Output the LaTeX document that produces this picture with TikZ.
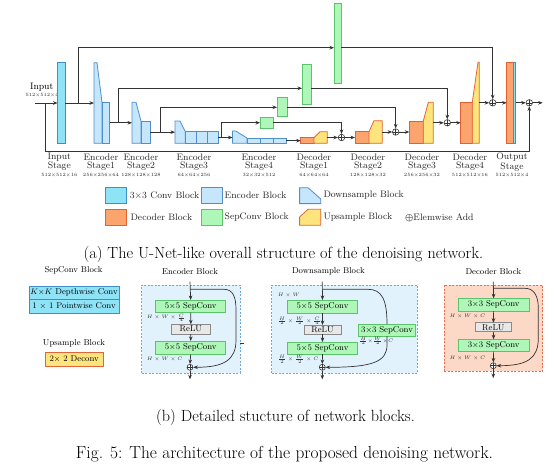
\documentclass[tikz,border=0pt]{standalone}
\usepackage{amsmath}
\usepackage{bm}
\usetikzlibrary{arrows.meta}
\definecolor{convF}{HTML}{8FE3F7}
\definecolor{convD}{HTML}{3D8FC6}
\definecolor{encF}{HTML}{C6E7FB}
\definecolor{encD}{HTML}{4F8FCB}
\definecolor{decF}{HTML}{FBA46E}
\definecolor{decD}{HTML}{E2612F}
\definecolor{sepF}{HTML}{AEF7B8}
\definecolor{sepD}{HTML}{5BC46B}
\definecolor{upF}{HTML}{FDE47C}
\definecolor{upD}{HTML}{E0653A}
\definecolor{reluF}{HTML}{E8E8E8}
\definecolor{reluD}{HTML}{8A8A8A}
\definecolor{frameE}{HTML}{E2F2FC}
\definecolor{frameED}{HTML}{6FA9D8}
\definecolor{frameR}{HTML}{FCD8C6}
\definecolor{frameRD}{HTML}{EA6C52}
\definecolor{ln}{HTML}{333333}
\newcommand\bx[7]{\pgfmathsetmacro\bxw{#5-#3}\pgfmathsetmacro\bxh{#6-#4}%
 \node[#1, minimum width=\bxw pt, minimum height=\bxh pt] (#2) at (#3,#4) {#7};}
\begin{document}
\begin{tikzpicture}[x=1pt,y=-1pt,
 blk/.style={draw, line width=0.8pt, inner sep=0pt, outer sep=0pt, anchor=north west},
 conv/.style={blk, fill=convF, draw=convD},
 enc/.style={blk, fill=encF, draw=encD},
 dec/.style={blk, fill=decF, draw=decD},
 sep/.style={blk, fill=sepF, draw=sepD},
 upb/.style={blk, fill=upF, draw=upD},
 relu/.style={blk, fill=reluF, draw=reluD},
 encP/.style={draw=encD, fill=encF, line width=0.8pt},
 upP/.style={draw=upD, fill=upF, line width=0.8pt},
 frE/.style={blk, fill=frameE, draw=frameED, line width=0.6pt, dash pattern=on 2pt off 1.5pt},
 frR/.style={blk, fill=frameR, draw=frameRD, line width=0.6pt, dash pattern=on 2pt off 1.5pt},
 con/.style={draw=ln, line width=0.7pt},
 arr/.style={con, -{Stealth[length=4.5pt,width=3.6pt]}},
 addnode/.style={circle, draw=ln, fill=white, line width=0.6pt, minimum size=6.5pt, inner sep=0pt,
   path picture={\draw[ln, line width=0.6pt] (path picture bounding box.north) -- (path picture bounding box.south)
   (path picture bounding box.west) -- (path picture bounding box.east);}},
 stl/.style={font=\fontsize{9.4}{8.4}\selectfont, align=center, inner sep=0pt, text=black!85},
 dimlab/.style={font=\fontsize{4.8}{6}\selectfont, inner sep=0pt, text=black!85},
 lgt/.style={font=\fontsize{9.4}{11}\selectfont, inner sep=0pt, anchor=west, text=black!85},
 captxt/.style={font=\fontsize{16.2}{19}\selectfont, inner sep=0pt},
 figtxt/.style={font=\fontsize{17.4}{20}\selectfont, inner sep=0pt},
 btx/.style={font=\fontsize{8.5}{10}\selectfont},
 smalllab/.style={font=\fontsize{5}{6}\selectfont, inner sep=0pt, anchor=west, text=black!80},
]
\useasboundingbox[fill=white] (0,0) rectangle (554,469);

% ---------------- (a) overall structure ----------------
\node[font=\fontsize{9.4}{10}\selectfont, inner sep=0pt] (intxt) at (41.7,87.3) {Input};
\node[dimlab] (indim) at (42,95.3) {512×512×4};

\bx{conv}{inst}{57.5}{62.7}{65}{143.3}{}

\draw[encP] (94,143.3) -- (94,62.7) -- (97,62.7) -- (102,102.3) -- (102,143.3) -- cycle;
\coordinate (d1w) at (94,103);
\bx{enc}{enc1}{102}{102.3}{109.7}{143.3}{}

\draw[encP] (132,143.3) -- (132,102.3) -- (136,102.3) -- (141,121) -- (141,143.3) -- cycle;
\coordinate (d2w) at (132,122.8);
\bx{enc}{enc2}{141}{121}{150}{143.3}{}

\draw[encP] (175,143.3) -- (175,121) -- (180,121) -- (185.3,131.7) -- (185.3,143.3) -- cycle;
\coordinate (d3w) at (175,132.15);
\bx{enc}{enc3a}{185.3}{131.7}{196}{143.3}{}
\bx{enc}{enc3b}{196}{131.7}{207}{143.3}{}
\bx{enc}{enc3c}{207}{131.7}{218}{143.3}{}

\draw[encP] (232.5,143.3) -- (232.5,131) -- (235.7,131) -- (247,138) -- (247,143.3) -- cycle;
\coordinate (d4w) at (232.5,137.5);
\bx{enc}{enc4a}{247}{138}{260}{143.3}{}
\bx{enc}{enc4b}{260}{138}{273}{143.3}{}
\bx{enc}{enc4c}{273}{138}{286}{143.3}{}

\bx{dec}{dec1}{300.7}{137.7}{314}{143.3}{}
\draw[upP] (314,143.3) -- (314,137.7) -- (320,131.7) -- (327.3,131.7) -- (327.3,143.3) -- cycle;
\coordinate (u1e) at (327.3,137.5);

\bx{dec}{dec2}{355}{131.7}{369}{143.3}{}
\draw[upP] (369,143.3) -- (369,131.7) -- (374,120.7) -- (382.3,120.7) -- (382.3,143.3) -- cycle;
\coordinate (u2e) at (382.3,132);

\bx{dec}{dec3}{409.3}{121}{423.3}{143.3}{}
\draw[upP] (423.3,143.3) -- (423.3,121) -- (428.3,102.3) -- (433.3,102.3) -- (433.3,143.3) -- cycle;
\coordinate (u3e) at (433.3,122.8);

\bx{dec}{dec4}{460.7}{102.3}{472.3}{143.3}{}
\draw[upP] (472.3,143.3) -- (472.3,102.3) -- (478,62.3) -- (479.3,62.3) -- (479.3,143.3) -- cycle;
\coordinate (u4e) at (479.3,102.8);

\bx{dec}{outs}{506.7}{62.3}{513.3}{143.3}{}
\bx{conv}{outc}{513.3}{62.3}{515.7}{143.3}{}

\bx{sep}{G1}{334}{3}{341}{83}{}
\bx{sep}{G2}{302}{64.3}{311}{104.3}{}
\bx{sep}{G3}{277}{97.7}{287.3}{116.7}{}
\bx{sep}{G4}{260}{117}{273}{128.3}{}

\node[addnode] (a1) at (341.5,137.5) {};
\node[addnode] (a2) at (395.7,132) {};
\node[addnode] (a3) at (447.3,122.8) {};
\node[addnode] (a4) at (492.7,102.8) {};
\node[addnode] (a5) at (529.3,102.8) {};

% main path
\coordinate (inp) at (35.3,103);
\coordinate (outp) at (542.7,102.8);
\draw[arr] (inp) -- (inst.west);
\draw[arr] (inst.east) -- (d1w);
\draw[arr] (enc1.east) -- (d2w);
\draw[arr] (enc2.east) -- (d3w);
\draw[arr] (enc3c.east) -- (d4w);
\draw[arr] (enc4c.east) -- (dec1.west |- enc4c.east);
\draw[arr] (u1e) -- (a1.west);
\draw[arr] (a1.east) -- (dec2.west |- a1.east);
\draw[arr] (u2e) -- (a2.west);
\draw[arr] (a2.east) -- (dec3.west |- a2.east);
\draw[arr] (u3e) -- (a3.west);
\draw[arr] (a3.east) -- (dec4.west |- a3.east);
\draw[arr] (u4e) -- (a4.west);
\draw[arr] (a4.east) -- (outs.west |- a4.east);
\draw[arr] (outc.east |- a5.west) -- (a5.west);
\draw[arr] (a5.east) -- (outp);

% skip connections
\coordinate (s1) at (78,103);      \coordinate (g1in) at (334,47.7);  \coordinate (g1out) at (341,47.7);
\coordinate (s2) at (118.3,122.8); \coordinate (g2in) at (302,88.3);  \coordinate (g2out) at (311,88.3);
\coordinate (s3) at (160.7,132.15);\coordinate (g3in) at (277,107.3); \coordinate (g3out) at (287.3,107.3);
\coordinate (s4) at (221.7,137.5); \coordinate (g4in) at (260,122.7); \coordinate (g4out) at (273,122.7);
\draw[arr] (s1) |- (g1in);  \draw[arr] (g1out) -| (a4.north);
\draw[arr] (s2) |- (g2in);  \draw[arr] (g2out) -| (a3.north);
\draw[arr] (s3) |- (g3in);  \draw[arr] (g3out) -| (a2.north);
\draw[arr] (s4) |- (g4in);  \draw[arr] (g4out) -| (a1.north);
\coordinate (s5) at (45,103); \coordinate (s5b) at (45,151);
\draw[arr] (s5) -- (s5b) -| (a5.south);

% stage labels
\node[stl] (l1) at (59.3,162) {Input\\Stage};     \node[dimlab] (m1) at (59.3,175.3) {512×512×16};
\node[stl] (l2) at (101,162) {Encoder\\Stage1};   \node[dimlab] (m2) at (101,175.3) {256×256×64};
\node[stl] (l3) at (141,162) {Encoder\\Stage2};   \node[dimlab] (m3) at (141,175.3) {128×128×128};
\node[stl] (l4) at (194,162) {Encoder\\Stage3};   \node[dimlab] (m4) at (194,175.3) {64×64×256};
\node[stl] (l5) at (259,162) {Encoder\\Stage4};   \node[dimlab] (m5) at (259,175.3) {32×32×512};
\node[stl] (l6) at (314,162) {Decoder\\Stage1};   \node[dimlab] (m6) at (314,175.3) {64×64×64};
\node[stl] (l7) at (368,162) {Decoder\\Stage2};   \node[dimlab] (m7) at (368,175.3) {128×128×32};
\node[stl] (l8) at (422,162) {Decoder\\Stage3};   \node[dimlab] (m8) at (422,175.3) {256×256×32};
\node[stl] (l9) at (470,162) {Decoder\\Stage4};   \node[dimlab] (m9) at (470,175.3) {512×512×16};
\node[stl] (l10) at (512,162) {Output\\Stage};    \node[dimlab] (m10) at (512,175.3) {512×512×4};

% legend
\bx{conv}{L1}{105.3}{187.7}{126.2}{203.6}{}
\node[lgt] (L1t) at (129.7,195.6) {3×3 Conv Block};
\bx{enc}{L2}{201.4}{187.7}{222.6}{203.6}{}
\node[lgt] (L2t) at (224.5,195.6) {Encoder Block};
\draw[encP] (299.6,203.6) -- (299.6,187.7) -- (308,187.7) -- (320.8,199) -- (320.8,203.6) -- cycle;
\node[lgt] (L3t) at (323.3,195.6) {Downsample Block};
\bx{dec}{L4}{105.3}{209.3}{126.2}{225.2}{}
\node[lgt] (L4t) at (130.4,217.2) {Decoder Block};
\bx{sep}{L5}{201.4}{209.3}{222.6}{225.2}{}
\node[lgt] (L5t) at (224.5,217.2) {SepConv Block};
\draw[upP] (299.6,225.2) -- (299.6,217) -- (308,209.3) -- (320.8,209.3) -- (320.8,225.2) -- cycle;
\node[lgt] (L6t) at (323.3,217.2) {Upsample Block};
\node[lgt] (L7t) at (405,218) {$\bm{\oplus}$Elemwise Add};

\node[captxt] (capa) at (283.4,254) {(a) The U-Net-like overall structure of the denoising network.};

% ---------------- (b) detailed blocks ----------------
\node[btx, inner sep=0pt] (sct) at (73.5,270.5) {SepConv Block};
\bx{conv,btx}{sc1}{29}{286}{119}{299.3}{$K{\times}K$ Depthwise Conv}
\bx{conv,btx}{sc2}{29}{299.3}{119}{313.3}{1 $\times$ 1 Pointwise Conv}
\node[btx, inner sep=0pt] (upt) at (74,343) {Upsample Block};
\bx{upb,btx}{upd}{45}{352.7}{103.3}{366}{2$\times$ 2 Deconv}

% Encoder block
\node[btx, inner sep=0pt] (et) at (190,271.7) {Encoder Block};
\bx{frE}{ef}{141.7}{285}{240}{373}{}
\bx{sep,btx}{eg1}{155.7}{300}{225.7}{312.7}{5$\times$5 SepConv}
\bx{relu,btx}{er}{171.7}{324.3}{210}{334}{ReLU}
\bx{sep,btx}{eg2}{155.7}{341}{225.7}{354.3}{5$\times$5 SepConv}
\node[addnode, minimum size=6pt] (ea) at (190,367.3) {};
\node[smalllab] (el1) at (146.7,317.6) {$H\times W\times \frac{C}{4}$};
\node[smalllab] (el2) at (146.7,359.3) {$H\times W\times C$};
\coordinate (ein) at (190,281.7); \coordinate (eout) at (190,379.3); \coordinate (esk) at (190,289.3);
\draw[arr] (ein) -- (eg1.north);
\draw[arr] (eg1.south) -- (er.north);
\draw[arr] (er.south) -- (eg2.north);
\draw[arr] (eg2.south) -- (ea.north);
\draw[arr] (ea.south) -- (eout);
\draw[arr] (esk) -- (224,289.3) .. controls (233,289.3) and (236,297) .. (236,310) -- (236,340) .. controls (236,360) and (224,367.3) .. (ea.east);
\coordinate (stA) at (240,343.3); \coordinate (stB) at (243.5,343.3);
\draw[con] (stA) -- (stB);

% Downsample block
\node[btx, inner sep=0pt] (dt) at (328.3,271.7) {Downsample Block};
\bx{frE}{df}{271.7}{285}{417.3}{373.3}{}
\bx{sep,btx}{dg1}{287.3}{300}{357.7}{313.3}{5$\times$5 SepConv}
\bx{relu,btx}{dr}{304}{325}{341}{334}{ReLU}
\bx{sep,btx}{dg2}{287.3}{342}{357.7}{354}{5$\times$5 SepConv}
\bx{sep,btx}{dg3}{358.3}{324}{415.7}{336}{3$\times$3 SepConv}
\node[addnode, minimum size=6pt] (da) at (322.3,367.3) {};
\node[smalllab] (dl0) at (277.7,295) {$H\times W$};
\node[smalllab] (dl1) at (277.7,320.7) {$\frac{H}{2}\times\frac{W}{2}\times\frac{C}{4}$};
\node[smalllab] (dl2) at (277.7,359.3) {$\frac{H}{2}\times\frac{W}{2}\times C$};
\node[smalllab] (dl3) at (359,340.9) {$\frac{H}{2}{\times}\frac{W}{2}{\times}C$};
\coordinate (din) at (322.3,281.7); \coordinate (dout) at (322.3,379.3); \coordinate (dsk) at (322.3,289.3);
\draw[arr] (din) -- (dg1.north);
\draw[arr] (dg1.south) -- (dr.north);
\draw[arr] (dr.south) -- (dg2.north);
\draw[arr] (dg2.south) -- (da.north);
\draw[arr] (da.south) -- (dout);
\draw[con] (dsk) -- (368,289.3) .. controls (382,289.3) and (387,300) .. (dg3.north);
\draw[arr] (dg3.south) -- (387,345) .. controls (387,362) and (372,367.3) .. (da.east);

% Decoder block
\node[btx, inner sep=0pt] (rt) at (493.3,271.7) {Decoder Block};
\bx{frR}{rf}{444}{285}{542.7}{371}{}
\bx{sep,btx}{rg1}{458.3}{298.3}{529}{311}{3$\times$3 SepConv}
\bx{relu,btx}{rr}{475}{322.7}{511.7}{331.7}{ReLU}
\bx{sep,btx}{rg2}{458.3}{339.3}{529}{351.7}{3$\times$3 SepConv}
\node[addnode, minimum size=6pt] (ra) at (493.3,365.7) {};
\node[smalllab] (rl1) at (449.3,316) {$H\times W\times C$};
\node[smalllab] (rl2) at (449.3,358.3) {$H\times W\times C$};
\coordinate (rin) at (493.3,281.7); \coordinate (rout) at (493.3,378); \coordinate (rsk) at (493.3,288.3);
\draw[arr] (rin) -- (rg1.north);
\draw[arr] (rg1.south) -- (rr.north);
\draw[arr] (rr.south) -- (rg2.north);
\draw[arr] (rg2.south) -- (ra.north);
\draw[arr] (ra.south) -- (rout);
\draw[arr] (rsk) -- (525,288.3) .. controls (534,288.3) and (538.3,296) .. (538.3,308) -- (538.3,338) .. controls (538.3,358) and (528,365.7) .. (ra.east);

\node[captxt] (capb) at (285.5,417) {(b) Detailed stucture of network blocks.};
\node[figtxt] (capf) at (284.5,454) {Fig. 5: The architecture of the proposed denoising network.};
\end{tikzpicture}
\end{document}
